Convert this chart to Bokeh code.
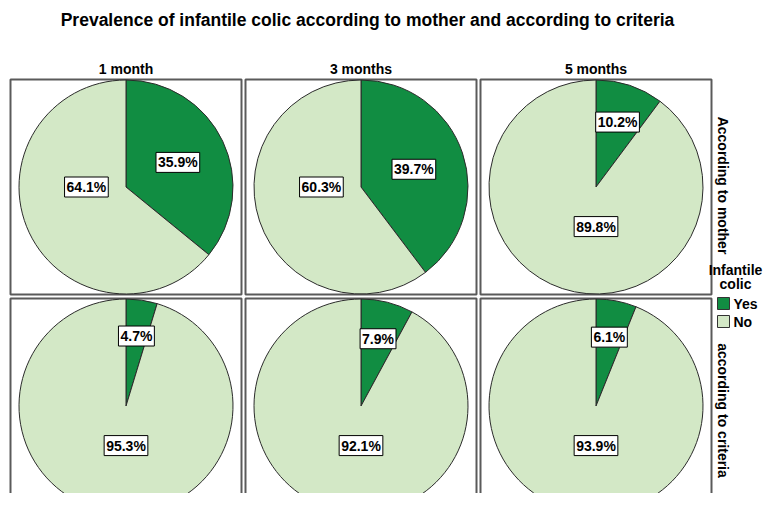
import math
from bokeh.plotting import figure
from bokeh.models import Range1d
from bokeh.core.properties import value
from bokeh.embed import file_html
from bokeh.resources import INLINE

# ---- data ----
months = ["1 month", "3 months", "5 months"]
rows = ["According to mother", "according to criteria"]
yes_mother = [35.9, 39.7, 10.2]
no_mother = [64.1, 60.3, 89.8]
yes_criteria = [4.7, 7.9, 6.1]
no_criteria = [95.3, 92.1, 93.9]
legend_title = ["Infantile", "colic"]
legend_labels = ["Yes", "No"]
title = "Prevalence of infantile colic according to mother and according to criteria"

# ---- style ----
YES_C = "#118D42"
NO_C = "#D3E8C6"
FONT = value("Liberation Sans")
H = 509  # reference height, for flipping

W_FIG, H_FIG = 763, 493
p = figure(width=W_FIG, height=H_FIG, output_backend="svg", toolbar_location=None,
           x_range=Range1d(0, W_FIG), y_range=Range1d(H - H_FIG, H),
           x_axis_location=None, y_axis_location=None, min_border=0,
           outline_line_color=None, background_fill_color="white")
p.grid.visible = False

col_left = [10, 245, 480]
row_top = [79, 298]
pw, ph = 231, 215
R = 107

def Y(y):
    return H - y

# panel borders
bl, br, bt, bb = [], [], [], []
for rt in row_top:
    for cl in col_left:
        bl.append(cl); br.append(cl + pw); bt.append(Y(rt)); bb.append(Y(rt + ph))
p.quad(left=bl, right=br, top=bt, bottom=bb, fill_color=None,
       line_color="#5a5a5a", line_width=2)

series = [(yes_mother, no_mother), (yes_criteria, no_criteria)]
wx, wy, ws, we, wc = [], [], [], [], []
lx, ly, lt = [], [], []
for ri, (yes_vals, no_vals) in enumerate(series):
    for ci in range(3):
        cx = col_left[ci] + pw / 2
        cy = row_top[ri] + ph / 2
        fy = yes_vals[ci] / 100.0
        fn = no_vals[ci] / 100.0
        tot = fy + fn
        fy, fn = fy / tot, fn / tot
        a0 = math.pi / 2
        a1 = a0 - 2 * math.pi * fy
        a2 = a1 - 2 * math.pi * fn
        wx += [cx, cx]; wy += [Y(cy), Y(cy)]
        ws += [a0, a1]; we += [a1, a2]; wc += [YES_C, NO_C]
        # yes label
        th = math.pi * fy
        d = R * (0.68 - 0.4 * fy)
        lx.append(cx + d * math.sin(th)); ly.append(Y(cy - d * math.cos(th)))
        lt.append(f"{yes_vals[ci]:.1f}%")
        # no label (direction snapped to quadrant)
        ph_ = 2 * math.pi * fy + math.pi * fn
        ph_ = round(ph_ / (math.pi / 2)) * (math.pi / 2)
        d2 = R * 0.37
        lx.append(cx + d2 * math.sin(ph_)); ly.append(Y(cy - d2 * math.cos(ph_)))
        lt.append(f"{no_vals[ci]:.1f}%")

p.wedge(x=wx, y=wy, radius=R, start_angle=ws, end_angle=we, direction="clock",
        fill_color=wc, line_color="#2b2b2b", line_width=1)

p.text(x=lx, y=ly, text=lt, text_font=FONT, text_font_style="bold",
       text_font_size="14px", text_align="center", text_baseline="middle",
       text_color="black", background_fill_color="white",
       border_line_color="black", border_line_width=1, padding=2)

# title
p.text(x=[367], y=[Y(19)], text=[title], text_font=FONT, text_font_style="bold",
       text_font_size="17.5px", text_align="center", text_baseline="middle",
       text_color="black")

# column headers
p.text(x=[c + pw / 2 for c in col_left], y=[Y(68)] * 3, text=months, text_font=FONT,
       text_font_style="bold", text_font_size="14px", text_align="center",
       text_baseline="middle", text_color="black")

# row labels
p.text(x=[722, 722], y=[Y(185), Y(410)], text=rows, angle=-math.pi / 2, text_font=FONT,
       text_font_style="bold", text_font_size="14px", text_align="center",
       text_baseline="middle", text_color="black")

# legend
p.text(x=[735, 735], y=[Y(269), Y(283)], text=legend_title, text_font=FONT,
       text_font_style="bold", text_font_size="14px", text_align="center",
       text_baseline="middle", text_color="black")
p.rect(x=[723, 723], y=[Y(303), Y(321)], width=12, height=12,
       fill_color=[YES_C, NO_C], line_color="#333333", line_width=1)
p.text(x=[733, 733], y=[Y(303), Y(321)], text=legend_labels, text_font=FONT,
       text_font_style="bold", text_font_size="14px", text_align="left",
       text_baseline="middle", text_color="black")

open("out.html", "w").write(file_html(p, INLINE))
